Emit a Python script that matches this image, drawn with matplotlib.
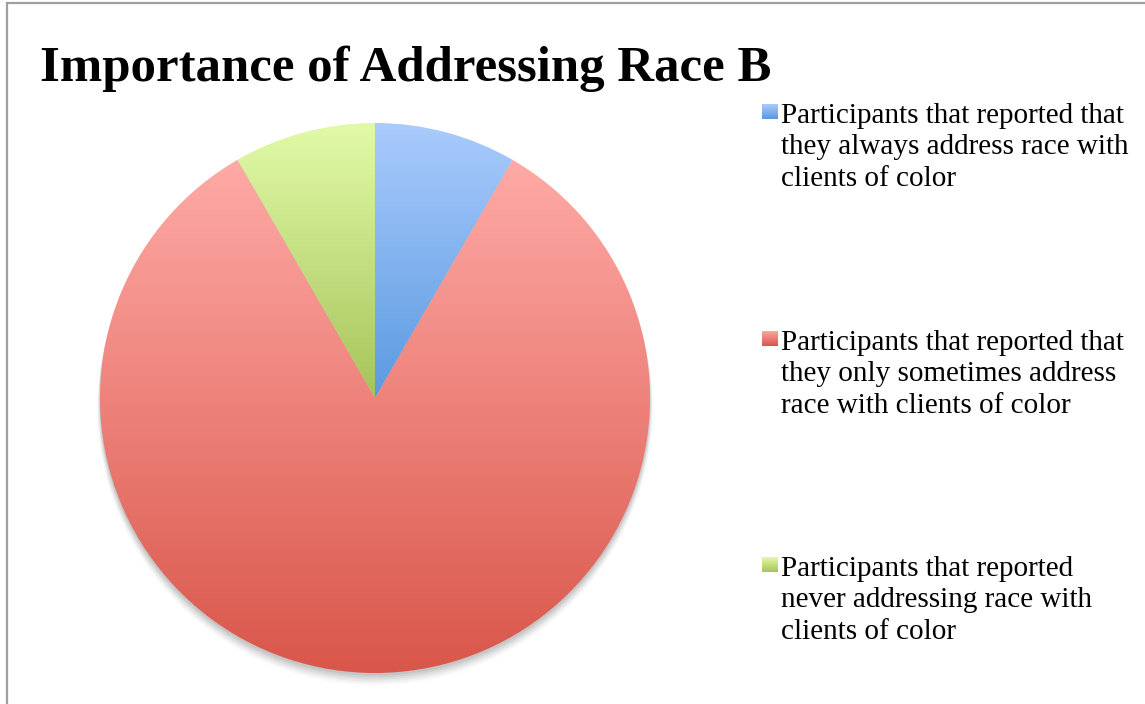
import numpy as np
import matplotlib
matplotlib.use("Agg")
import matplotlib.pyplot as plt
from matplotlib.patches import Rectangle, Ellipse
from matplotlib.colors import LinearSegmentedColormap

title = "Importance of Addressing Race B"
labels = [
    "Participants that reported that\nthey always address race with\nclients of color",
    "Participants that reported that\nthey only sometimes address\nrace with clients of color",
    "Participants that reported\nnever addressing race with\nclients of color",
]
values = [1, 10, 1]
top_colors = ["#aacbfd", "#ffaaa6", "#e2faa8"]
bottom_colors = ["#5a9ae0", "#d9564a", "#a6c45a"]

W, H = 1145, 704
fig = plt.figure(figsize=(W / 100, H / 100), dpi=100)
fig.patch.set_facecolor("white")

# frame border (left and top visible)
fig.patches.append(Rectangle((6.5 / W, -0.1), 1.2, (H - 2.5) / H + 0.1,
                             transform=fig.transFigure, fill=False,
                             edgecolor="#a0a0a0", linewidth=1.6))

# pie axes
cx, cy, r = 375, 398, 275
ax = fig.add_axes([(cx - r) / W, (H - cy - r) / H, 2 * r / W, 2 * r / H])
ax.set_xlim(-1, 1)
ax.set_ylim(-1, 1)
ax.set_aspect("equal")
ax.axis("off")

# soft shadow
for k, a in zip(range(6), [0.06, 0.05, 0.045, 0.04, 0.03, 0.02]):
    ax.add_patch(Ellipse((0, -0.010 - 0.005 * k), 2.0 + 0.004 * k, 2.0 + 0.004 * k,
                         facecolor="black", alpha=a, edgecolor="none", zorder=0,
                         clip_on=False))

wedges, _ = ax.pie(values, startangle=90, counterclock=False, radius=1,
                   colors=top_colors, wedgeprops=dict(linewidth=0))
for w, c0, c1 in zip(wedges, top_colors, bottom_colors):
    path = w.get_path()
    verts = w.get_transform().transform(path.vertices)
    dv = ax.transData.inverted().transform(verts)
    ymin, ymax = dv[:, 1].min(), dv[:, 1].max()
    cmap = LinearSegmentedColormap.from_list("g", [c1, c0])
    grad = np.linspace(0, 1, 256).reshape(-1, 1)
    im = ax.imshow(grad, cmap=cmap, origin="lower", aspect="auto",
                   extent=[-1, 1, ymin, ymax], zorder=2, interpolation="bilinear")
    im.set_clip_path(w)
    w.set_facecolor("none")
ax.set_xlim(-1, 1)
ax.set_ylim(-1, 1)

# title
fig.text(40 / W, 1 - 81 / H, title, fontsize=36.6, fontweight="bold",
         family="Liberation Serif", va="baseline", ha="left", color="black")

# legend
legend_tops = [104, 331, 557]
for lab, y, c0, c1 in zip(labels, legend_tops, top_colors, bottom_colors):
    sq = 15
    lax = fig.add_axes([762 / W, 1 - (y + sq) / H, sq / W, sq / H])
    lax.imshow(np.linspace(0, 1, 32).reshape(-1, 1),
               cmap=LinearSegmentedColormap.from_list("s", [c0, c1]),
               aspect="auto", extent=[0, 1, 0, 1], origin="upper")
    lax.axis("off")
    fig.text(781 / W, 1 - (y - 1) / H, lab, fontsize=21, family="Liberation Serif",
             va="top", ha="left", linespacing=1.27, color="black")

fig.savefig("out.png", dpi=100)
